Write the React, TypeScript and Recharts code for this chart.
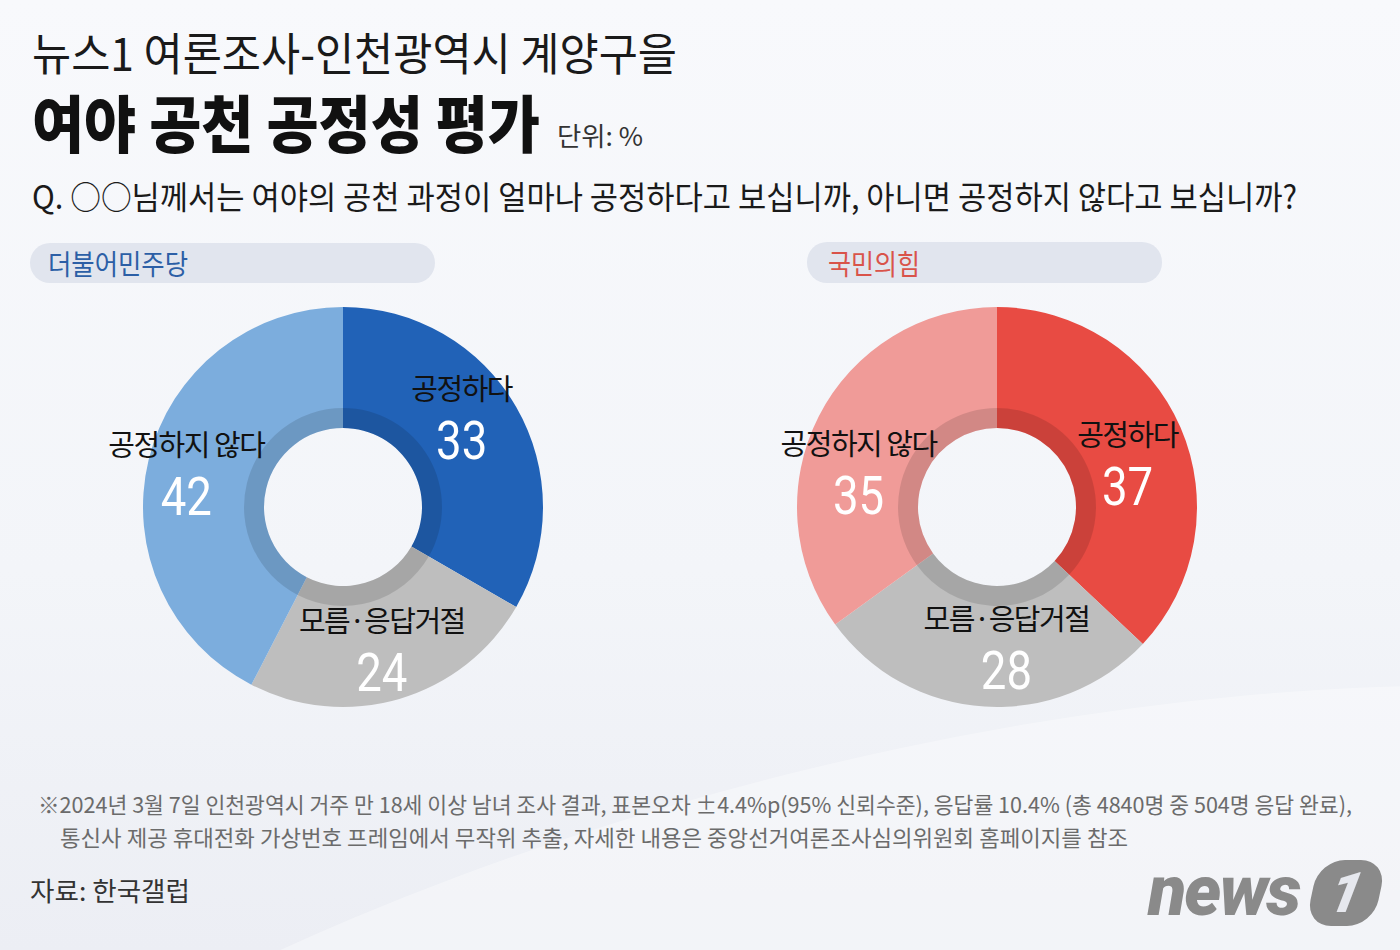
import React, { useLayoutEffect, useRef } from "react";
import { PieChart, Pie, Cell } from "recharts";

const labels = ["공정하다", "모름·응답거절", "공정하지 않다"];
const democratValues = [33, 24, 42];
const ppValues = [37, 28, 35];
const democratColors = ["#2162B7", "#BEBEBE", "#7CADDD"];
const ppColors = ["#E84B43", "#BEBEBE", "#F09B98"];

const democratData = labels.map((name, i) => ({ name, value: democratValues[i] }));
const ppData = labels.map((name, i) => ({ name, value: ppValues[i] }));

const KR = '"Noto Sans CJK KR", "Noto Sans", sans-serif';
const RADIAN = Math.PI / 180;

// squeezes a line of text horizontally to the given width (the source uses a condensed face)
const FitText = ({ x, y, width, size, color, weight, children }: any) => {
  const ref = useRef<HTMLDivElement>(null);
  useLayoutEffect(() => {
    const el = ref.current;
    if (!el) return;
    el.style.transform = "none";
    const w = el.getBoundingClientRect().width;
    el.style.transform = `scaleX(${width / w})`;
  }, [width]);
  return (
    <div
      ref={ref}
      style={{
        position: "absolute",
        left: x,
        top: y,
        fontSize: size,
        lineHeight: 1,
        color,
        fontWeight: weight || 400,
        fontFamily: KR,
        whiteSpace: "nowrap",
        transformOrigin: "left center",
      }}
    >
      {children}
    </div>
  );
};

// label at the slice middle, with a small hand nudge like the original layout
const makeLabel = (nudge: number[][]) => (props: any) => {
  const { cx, cy, midAngle, name, value, index } = props;
  const r = 152;
  const [dx, dy] = nudge[index] || [0, 0];
  const x = cx + r * Math.cos(-midAngle * RADIAN) + dx;
  const y = cy + r * Math.sin(-midAngle * RADIAN) + dy;
  return (
    <g>
      <text
        x={x}
        y={y - 27}
        textAnchor="middle"
        dominantBaseline="central"
        fill="#111"
        fontSize={29}
        letterSpacing={-1.5}
        fontFamily={KR}
      >
        {name}
      </text>
      <text
        transform={`translate(${x},${y + 27}) scale(0.86,1)`}
        textAnchor="middle"
        dominantBaseline="central"
        fill="#fff"
        fontSize={53}
        fontFamily="Roboto, sans-serif"
      >
        {value}
      </text>
    </g>
  );
};

const Donut = ({ data, colors, cx, cy, nudge }: any) => [
  <Pie
    key="main"
    data={data}
    dataKey="value"
    nameKey="name"
    cx={cx}
    cy={cy}
    innerRadius={79}
    outerRadius={200}
    startAngle={90}
    endAngle={-270}
    stroke="none"
    labelLine={false}
    label={makeLabel(nudge)}
    isAnimationActive={false}
  >
    {data.map((d: any, i: number) => (
      <Cell key={d.name} fill={colors[i]} />
    ))}
  </Pie>,
  <Pie
    key="shade"
    data={data}
    dataKey="value"
    cx={cx}
    cy={cy}
    innerRadius={79}
    outerRadius={99}
    startAngle={90}
    endAngle={-270}
    stroke="none"
    fill="rgba(0,0,0,0.12)"
    isAnimationActive={false}
  />,
];

export default function App() {
  return (
    <div
      style={{
        position: "absolute",
        left: 0,
        top: 0,
        width: 1400,
        height: 950,
        overflow: "hidden",
        background: "linear-gradient(180deg, #F8F9FC 0%, #F3F5F9 60%, #ECEEF4 100%)",
        fontFamily: KR,
      }}
    >
      <div
        style={{
          position: "absolute",
          left: -300,
          top: 760,
          width: 2400,
          height: 900,
          borderRadius: "50%",
          background: "rgba(255,255,255,0.35)",
          transform: "rotate(-14deg)",
        }}
      />

      <FitText x={32} y={29} width={645} size={45} color="#1a1a1a">
        뉴스1 여론조사-인천광역시 계양구을
      </FitText>
      <FitText x={32} y={90} width={508} size={62} color="#111" weight={900}>
        여야 공천 공정성 평가
      </FitText>
      <FitText x={557} y={122} width={86} size={26} color="#333">
        단위: %
      </FitText>
      <FitText x={32} y={179} width={1265} size={32} color="#1a1a1a">
        Q. ○○님께서는 여야의 공천 과정이 얼마나 공정하다고 보십니까, 아니면 공정하지 않다고 보십니까?
      </FitText>

      <div
        style={{
          position: "absolute",
          left: 30,
          top: 243,
          width: 405,
          height: 40,
          borderRadius: 20,
          background: "#E1E5EE",
        }}
      />
      <FitText x={48} y={249} width={140} size={28} color="#2C5FA6">
        더불어민주당
      </FitText>
      <div
        style={{
          position: "absolute",
          left: 807,
          top: 242,
          width: 355,
          height: 41,
          borderRadius: 20,
          background: "#E1E5EE",
        }}
      />
      <FitText x={828} y={249} width={92} size={28} color="#D9534A">
        국민의힘
      </FitText>

      <div style={{ position: "absolute", left: 0, top: 0 }}>
        <PieChart width={1400} height={950} margin={{ top: 0, right: 0, bottom: 0, left: 0 }}>
          {Donut({
            data: democratData,
            colors: democratColors,
            cx: 343,
            cy: 507,
            nudge: [[-13, -17], [-4, -7], [-9, -1]],
          })}
          {Donut({
            data: ppData,
            colors: ppColors,
            cx: 997,
            cy: 507,
            nudge: [[-9, 13], [19, -15], [-3, 31]],
          })}
        </PieChart>
      </div>

      <FitText x={38} y={792} width={1314} size={22} color="#6B6B6B">
        ※2024년 3월 7일 인천광역시 거주 만 18세 이상 남녀 조사 결과, 표본오차 ±4.4%p(95% 신뢰수준), 응답률 10.4% (총 4840명 중 504명 응답 완료),
      </FitText>
      <FitText x={60} y={825} width={1068} size={22} color="#6B6B6B">
        통신사 제공 휴대전화 가상번호 프레임에서 무작위 추출, 자세한 내용은 중앙선거여론조사심의위원회 홈페이지를 참조
      </FitText>
      <FitText x={30} y={877} width={160} size={26} color="#333">
        자료: 한국갤럽
      </FitText>

      <div
        style={{
          position: "absolute",
          left: 1148,
          top: 856,
          fontFamily: "Roboto, sans-serif",
          fontStyle: "italic",
          fontWeight: 900,
          fontSize: 70,
          lineHeight: 1,
          color: "#8A8A8A",
          letterSpacing: -2,
        }}
      >
        news
      </div>
      <div
        style={{
          position: "absolute",
          left: 1312,
          top: 860,
          width: 68,
          height: 66,
          borderRadius: 26,
          background: "#8A8A8A",
          transform: "skewX(-12deg)",
          color: "#E6E8EE",
          fontFamily: "Roboto, sans-serif",
          fontWeight: 900,
          fontStyle: "italic",
          fontSize: 56,
          lineHeight: "66px",
          textAlign: "center",
        }}
      >
        1
      </div>
    </div>
  );
}
